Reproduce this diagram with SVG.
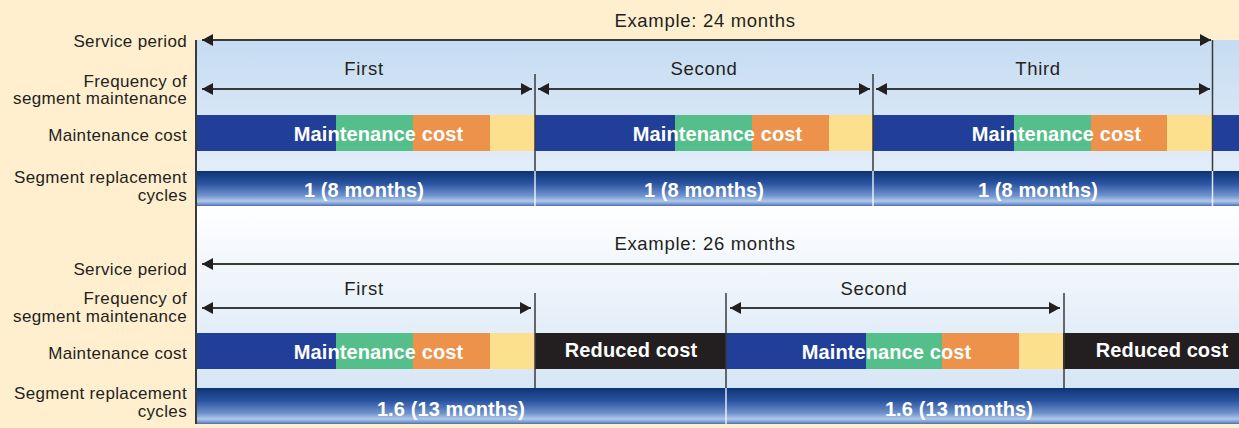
<svg xmlns="http://www.w3.org/2000/svg" width="1239" height="428" viewBox="0 0 1239 428">
<style>
.lbl{font-family:"Liberation Sans",Arial,sans-serif;font-size:17px;fill:#231f20;text-anchor:end;letter-spacing:0.35px}
.hd{font-family:"Liberation Sans",Arial,sans-serif;font-size:18.5px;fill:#231f20;text-anchor:middle;letter-spacing:0.7px}
.bw{font-family:"Liberation Sans",Arial,sans-serif;font-size:20px;font-weight:bold;fill:#ffffff;text-anchor:middle;letter-spacing:0.1px}
.arr{stroke:#3a3a3a;stroke-width:2;fill:none;marker-start:url(#ah);marker-end:url(#ah)}
.arrL{stroke:#3a3a3a;stroke-width:2;fill:none;marker-start:url(#ah)}
.sep{stroke:#3a3a3a;stroke-width:1.5}
.wsep{stroke:#ffffff;stroke-width:1.5;opacity:0.85}
.b{fill:#213f98}.g{fill:#55bf8b}.o{fill:#ec924a}.y{fill:#fde08e}.k{fill:#231f20}
</style>
<defs>
<marker id="ah" viewBox="0 0 11 12" refX="11" refY="6" markerWidth="11" markerHeight="12" markerUnits="userSpaceOnUse" orient="auto-start-reverse">
<path d="M0,0 L11,6 L0,12 Z" fill="#231f20"/>
</marker>
<linearGradient id="p1" x1="0" y1="0" x2="0" y2="1">
<stop offset="0" stop-color="#c6dcf2"/><stop offset="1" stop-color="#eaf2fb"/>
</linearGradient>
<linearGradient id="p2" x1="0" y1="0" x2="0" y2="1">
<stop offset="0" stop-color="#ffffff"/><stop offset="1" stop-color="#cfe1f3"/>
</linearGradient>
<linearGradient id="seg" x1="0" y1="0" x2="0" y2="1">
<stop offset="0" stop-color="#0b3477"/><stop offset="0.35" stop-color="#2a539f"/><stop offset="0.7" stop-color="#6f92cc"/><stop offset="0.86" stop-color="#b0c9ea"/><stop offset="0.94" stop-color="#7d9bd2"/><stop offset="1" stop-color="#4d6fb3"/>
</linearGradient>
</defs>
<rect x="0" y="0" width="1239" height="428" fill="#ffefcf"/>

<g id="labels">
<text class="lbl" x="187" y="47">Service period</text>
<text class="lbl" x="187" y="87">Frequency of</text>
<text class="lbl" x="187" y="104">segment maintenance</text>
<text class="lbl" x="187" y="141">Maintenance cost</text>
<text class="lbl" x="187" y="183">Segment replacement</text>
<text class="lbl" x="187" y="201">cycles</text>
<text class="lbl" x="187" y="275">Service period</text>
<text class="lbl" x="187" y="304">Frequency of</text>
<text class="lbl" x="187" y="322">segment maintenance</text>
<text class="lbl" x="187" y="359">Maintenance cost</text>
<text class="lbl" x="187" y="399">Segment replacement</text>
<text class="lbl" x="187" y="417">cycles</text>
</g>

<g id="panel1">
<rect x="196" y="40" width="1043" height="166" fill="url(#p1)"/>
<text class="hd" x="705" y="27">Example: 24 months</text>
<text class="hd" x="364" y="75">First</text>
<text class="hd" x="704" y="75">Second</text>
<text class="hd" x="1038" y="75">Third</text>
<g id="cost1">
<rect class="b" x="196" y="115" width="140" height="36"/>
<rect class="g" x="336" y="115" width="77" height="36"/>
<rect class="o" x="413" y="115" width="77" height="36"/>
<rect class="y" x="490" y="115" width="45" height="36"/>
<rect class="b" x="535" y="115" width="140" height="36"/>
<rect class="g" x="675" y="115" width="77" height="36"/>
<rect class="o" x="752" y="115" width="77" height="36"/>
<rect class="y" x="829" y="115" width="44" height="36"/>
<rect class="b" x="873" y="115" width="141" height="36"/>
<rect class="g" x="1014" y="115" width="77" height="36"/>
<rect class="o" x="1091" y="115" width="76" height="36"/>
<rect class="y" x="1167" y="115" width="45" height="36"/>
<rect class="b" x="1212" y="115" width="27" height="36"/>
<text class="bw" x="378.5" y="141">Maintenance cost</text>
<text class="bw" x="717.5" y="141">Maintenance cost</text>
<text class="bw" x="1056.5" y="141">Maintenance cost</text>
</g>
<g id="cycles1">
<rect x="196" y="171" width="1043" height="35" fill="url(#seg)"/>
<text class="bw" x="364" y="197">1 (8 months)</text>
<text class="bw" x="704" y="197">1 (8 months)</text>
<text class="bw" x="1038" y="197">1 (8 months)</text>
</g>
</g>

<g id="panel2">
<rect x="196" y="206" width="1043" height="218" fill="url(#p2)"/>
<text class="hd" x="705" y="250">Example: 26 months</text>
<text class="hd" x="364" y="295">First</text>
<text class="hd" x="874" y="295">Second</text>
<g id="cost2">
<rect class="b" x="196" y="333" width="140" height="36"/>
<rect class="g" x="336" y="333" width="77" height="36"/>
<rect class="o" x="413" y="333" width="77" height="36"/>
<rect class="y" x="490" y="333" width="45" height="36"/>
<rect class="k" x="535" y="333" width="191" height="36"/>
<rect class="b" x="726" y="333" width="140" height="36"/>
<rect class="g" x="866" y="333" width="76" height="36"/>
<rect class="o" x="942" y="333" width="77" height="36"/>
<rect class="y" x="1019" y="333" width="44" height="36"/>
<rect class="k" x="1063" y="333" width="176" height="36"/>
<text class="bw" x="378.5" y="359">Maintenance cost</text>
<text class="bw" x="631" y="357">Reduced cost</text>
<text class="bw" x="886.5" y="359">Maintenance cost</text>
<text class="bw" x="1162" y="357">Reduced cost</text>
</g>
<g id="cycles2">
<rect x="196" y="388" width="1043" height="36" fill="url(#seg)"/>
<text class="bw" x="451" y="416">1.6 (13 months)</text>
<text class="bw" x="959" y="416">1.6 (13 months)</text>
</g>
</g>

<g id="connectors">
<line x1="196" y1="40" x2="196" y2="424" stroke="#3a3a3a" stroke-width="2"/>
<line class="sep" x1="535" y1="74" x2="535" y2="171"/>
<line class="sep" x1="873" y1="74" x2="873" y2="171"/>
<line class="sep" x1="1212.5" y1="40" x2="1212.5" y2="171"/>
<line class="wsep" x1="535" y1="171" x2="535" y2="206"/>
<line class="wsep" x1="873" y1="171" x2="873" y2="206"/>
<line class="wsep" x1="1212.5" y1="171" x2="1212.5" y2="206"/>
<line class="arr" x1="202" y1="40" x2="1211" y2="40"/>
<line class="arr" x1="202" y1="89" x2="532" y2="89"/>
<line class="arr" x1="538" y1="89" x2="870" y2="89"/>
<line class="arr" x1="876" y1="89" x2="1210" y2="89"/>
<line class="sep" x1="535" y1="293" x2="535" y2="388"/>
<line class="sep" x1="726" y1="293" x2="726" y2="388"/>
<line class="sep" x1="1064" y1="293" x2="1064" y2="388"/>
<line class="wsep" x1="726" y1="388" x2="726" y2="424"/>
<line class="arrL" x1="202" y1="264" x2="1239" y2="264"/>
<line class="arr" x1="202" y1="308" x2="531" y2="308"/>
<line class="arr" x1="730" y1="308" x2="1060" y2="308"/>
</g>
</svg>
